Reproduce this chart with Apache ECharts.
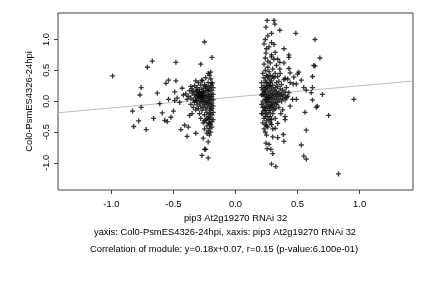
<!DOCTYPE html>
<html>
<head>
<meta charset="utf-8">
<script src="https://cdn.jsdelivr.net/npm/echarts@6/dist/echarts.min.js"></script>
<style>
  html, body { margin: 0; padding: 0; background: #fff; }
  #chart { width: 432px; height: 288px; }
</style>
</head>
<body>
<div id="chart"></div>
<script>
// axis ticks shown on the plot
const xTicks = [-1.0, -0.5, 0.0, 0.5, 1.0];
const yTicks = [-1.0, -0.5, 0.0, 0.5, 1.0];

// fit from the caption
const fitSlope = 0.18;
const fitIntercept = 0.07;

// scattered points left of the axis
const leftSparse = [
  [-0.99, 0.41], [-0.67, 0.65], [-0.71, 0.55], [-0.48, 0.63], [-0.25, 0.96],
  [-0.19, 0.71], [-0.28, 0.60], [-0.76, 0.22], [-0.77, 0.10], [-0.83, -0.16],
  [-0.76, -0.10], [-0.82, -0.41], [-0.78, -0.32], [-0.72, -0.46], [-0.66, -0.28],
  [-0.63, 0.13], [-0.61, -0.04], [-0.59, -0.19], [-0.56, 0.29], [-0.54, 0.34],
  [-0.57, -0.31], [-0.55, -0.33], [-0.52, -0.26], [-0.54, 0.03], [-0.50, -0.16],
  [-0.49, 0.15], [-0.48, 0.33], [-0.49, 0.01], [-0.47, 0.05], [-0.45, -0.02],
  [-0.44, -0.46], [-0.41, -0.39], [-0.39, -0.57], [-0.38, -0.42], [-0.43, 0.21],
  [-0.42, 0.10], [-0.39, 0.03], [-0.36, 0.24], [-0.37, -0.23], [-0.35, -0.20],
  [-0.32, -0.52], [-0.27, -0.88], [-0.25, -0.78], [-0.24, -0.78], [-0.22, -0.92],
  [-0.26, -0.60], [-0.22, -0.66], [-0.19, 0.30], [-0.20, 0.47], [-0.22, 0.45],
  [-0.27, 0.34], [-0.32, 0.33]
];

// dense group near x = -0.25
const leftCluster = [
  [-0.40, 0.12], [-0.38, 0.08], [-0.37, 0.17], [-0.36, 0.05], [-0.36, -0.05],
  [-0.35, 0.13], [-0.35, 0.20], [-0.34, 0.02], [-0.34, -0.10], [-0.33, 0.10],
  [-0.33, 0.25], [-0.33, -0.02], [-0.32, 0.06], [-0.32, 0.16], [-0.32, -0.14],
  [-0.31, 0.00], [-0.31, 0.11], [-0.31, 0.22], [-0.31, -0.06], [-0.30, 0.04],
  [-0.30, 0.14], [-0.30, -0.12], [-0.30, 0.30], [-0.29, 0.08], [-0.29, -0.03],
  [-0.29, 0.19], [-0.29, -0.20], [-0.28, 0.02], [-0.28, 0.12], [-0.28, 0.26],
  [-0.28, -0.08], [-0.28, -0.28], [-0.27, 0.06], [-0.27, 0.16], [-0.27, -0.01],
  [-0.27, -0.15], [-0.27, 0.33], [-0.26, 0.09], [-0.26, 0.00], [-0.26, 0.21],
  [-0.26, -0.10], [-0.26, -0.35], [-0.25, 0.04], [-0.25, 0.13], [-0.25, -0.05],
  [-0.25, 0.27], [-0.25, -0.22], [-0.25, -0.45], [-0.24, 0.07], [-0.24, 0.18],
  [-0.24, -0.02], [-0.24, -0.13], [-0.24, 0.38], [-0.24, -0.30], [-0.23, 0.01],
  [-0.23, 0.10], [-0.23, 0.23], [-0.23, -0.08], [-0.23, -0.18], [-0.23, -0.40],
  [-0.23, -0.52], [-0.22, 0.05], [-0.22, 0.15], [-0.22, -0.04], [-0.22, 0.30],
  [-0.22, -0.25], [-0.22, -0.35], [-0.22, -0.48], [-0.21, 0.08], [-0.21, -0.01],
  [-0.21, 0.20], [-0.21, -0.11], [-0.21, 0.42], [-0.21, -0.20], [-0.21, -0.30],
  [-0.21, -0.44], [-0.21, -0.55], [-0.20, 0.03], [-0.20, 0.12], [-0.20, -0.06],
  [-0.20, 0.25], [-0.20, -0.15], [-0.20, -0.27], [-0.20, -0.38], [-0.20, -0.50],
  [-0.20, 0.36], [-0.19, 0.07], [-0.19, 0.17], [-0.19, -0.03], [-0.19, -0.12],
  [-0.19, -0.22], [-0.19, -0.33], [-0.19, -0.42], [-0.19, 0.28], [-0.18, 0.02],
  [-0.18, 0.11], [-0.18, -0.08], [-0.18, 0.22], [-0.18, -0.18], [-0.18, -0.30],
  [-0.22, 0.18], [-0.24, 0.24], [-0.26, 0.15], [-0.28, 0.07], [-0.30, 0.09],
  [-0.32, 0.01], [-0.34, 0.16], [-0.23, -0.28], [-0.21, -0.36], [-0.25, -0.32],
  [-0.27, 0.10], [-0.29, 0.14], [-0.31, 0.18]
];

// dense group near x = 0.27
const rightCluster = [
  [0.21, 0.10], [0.21, -0.05], [0.21, 0.30], [0.22, 0.00], [0.22, 0.18],
  [0.22, -0.20], [0.22, 0.45], [0.22, -0.35], [0.23, 0.08], [0.23, 0.25],
  [0.23, -0.10], [0.23, 0.60], [0.23, -0.28], [0.23, -0.45], [0.23, 0.38],
  [0.24, 0.03], [0.24, 0.15], [0.24, -0.03], [0.24, 0.33], [0.24, -0.15],
  [0.24, 0.50], [0.24, -0.38], [0.24, 0.70], [0.24, -0.25], [0.25, 0.10],
  [0.25, 0.22], [0.25, -0.08], [0.25, 0.42], [0.25, -0.20], [0.25, 0.85],
  [0.25, -0.32], [0.25, 0.02], [0.26, 0.06], [0.26, 0.18], [0.26, -0.12],
  [0.26, 0.28], [0.26, -0.02], [0.26, 0.55], [0.26, -0.42], [0.26, 0.65],
  [0.27, 0.12], [0.27, 0.00], [0.27, 0.36], [0.27, -0.18], [0.27, 0.24],
  [0.27, -0.30], [0.27, 0.48], [0.27, 0.88], [0.28, 0.05], [0.28, 0.15],
  [0.28, -0.06], [0.28, 0.30], [0.28, -0.15], [0.28, 0.42], [0.28, -0.25],
  [0.28, 0.62], [0.29, 0.09], [0.29, 0.20], [0.29, -0.02], [0.29, 0.33],
  [0.29, -0.10], [0.29, -0.38], [0.29, 0.75], [0.30, 0.03], [0.30, 0.13],
  [0.30, 0.26], [0.30, -0.08], [0.30, -0.20], [0.30, 0.52], [0.30, -0.45],
  [0.31, 0.07], [0.31, 0.18], [0.31, -0.04], [0.31, 0.38], [0.31, -0.14],
  [0.31, 0.68], [0.32, 0.11], [0.32, 0.00], [0.32, 0.22], [0.32, -0.12],
  [0.32, 0.45], [0.32, -0.28], [0.33, 0.05], [0.33, 0.16], [0.33, 0.30],
  [0.33, -0.06], [0.33, 0.58], [0.34, 0.10], [0.34, 0.24], [0.34, -0.02],
  [0.34, 0.40], [0.35, 0.14], [0.35, 0.03], [0.35, 0.32], [0.35, -0.10],
  [0.36, 0.08], [0.36, 0.20], [0.36, 0.45], [0.37, 0.12], [0.37, 0.00],
  [0.37, 0.27], [0.38, 0.05], [0.38, 0.18], [0.38, -0.14], [0.39, 0.10],
  [0.39, 0.35], [0.40, 0.15], [0.40, 0.02], [0.41, 0.22], [0.42, 0.08],
  [0.43, 0.14], [0.44, 0.30], [0.22, 0.12], [0.23, -0.15], [0.24, 0.20],
  [0.25, 0.30], [0.26, -0.25], [0.27, 0.06], [0.28, 0.25], [0.29, -0.30],
  [0.30, 0.40], [0.21, 0.22], [0.22, -0.10], [0.23, 0.15], [0.25, -0.40],
  [0.26, 0.40], [0.27, -0.08], [0.28, -0.35], [0.21, -0.20]
];

// scattered points right of the axis
const rightSparse = [
  [0.255, 1.31], [0.31, 1.31], [0.245, 1.20], [0.317, 1.25], [0.357, 1.15],
  [0.29, 1.10], [0.26, 1.06], [0.486, 1.10], [0.64, 1.00], [0.24, 1.00],
  [0.29, 0.95], [0.31, 0.92], [0.39, 0.85], [0.23, 0.93], [0.245, 0.78],
  [0.32, 0.79], [0.29, 0.72], [0.34, 0.68], [0.357, 0.63], [0.43, 0.75],
  [0.43, 0.71], [0.39, 0.62], [0.68, 0.70], [0.63, 0.58], [0.64, 0.57],
  [0.43, 0.53], [0.357, 0.52], [0.44, 0.46], [0.51, 0.47], [0.50, 0.44],
  [0.62, 0.40], [0.40, 0.37], [0.42, 0.36], [0.47, 0.39], [0.53, 0.34],
  [0.465, 0.28], [0.49, 0.28], [0.55, 0.22], [0.62, 0.22], [0.57, 0.18],
  [0.61, 0.14], [0.70, 0.11], [0.954, 0.03], [0.46, 0.03], [0.49, 0.03],
  [0.41, 0.06], [0.62, 0.02], [0.66, -0.08], [0.65, -0.10], [0.44, -0.08],
  [0.56, -0.18], [0.75, -0.23], [0.40, -0.30], [0.57, -0.47], [0.385, -0.54],
  [0.39, -0.65], [0.53, -0.71], [0.55, -0.89], [0.57, -0.94], [0.83, -1.18],
  [0.30, -0.58], [0.34, -0.59], [0.245, -0.68], [0.27, -0.70], [0.255, -0.77],
  [0.285, -0.78], [0.30, -0.85], [0.29, -1.02], [0.325, -1.06], [0.24, -0.50],
  [0.25, -0.55], [0.365, -0.20], [0.40, -0.25], [0.34, -0.36], [0.32, -0.44]
];

const xMin = -1.43, xMax = 1.43;
const yMin = -1.44, yMax = 1.43;

const plusMark = 'path://M0,1.85h5v1.3h-5zM1.85,0h1.3v5h-1.3z';
const points = leftSparse.concat(leftCluster, rightCluster, rightSparse);
const fitLine = [xMin, xMax].map(x => [x, fitSlope * x + fitIntercept]);

const font = 'Liberation Sans, Arial, Helvetica, sans-serif';
const fs = 9.4;
const chart = echarts.init(document.getElementById('chart'), null, { renderer: 'canvas' });

chart.setOption({
  animation: false,
  backgroundColor: '#fff',
  textStyle: { fontFamily: font },
  grid: {
    left: 58, right: 19, top: 13, bottom: 98,
    show: true, borderColor: '#444', borderWidth: 1, backgroundColor: 'transparent'
  },
  xAxis: {
    type: 'value', min: xMin, max: xMax,
    name: 'pip3 At2g19270 RNAi 32', nameLocation: 'middle', nameGap: 21,
    nameTextStyle: { fontSize: fs, color: '#000', fontFamily: font },
    axisLine: { show: false, onZero: false },
    axisTick: { show: true, length: 4, customValues: xTicks, lineStyle: { color: '#444' } },
    axisLabel: {
      customValues: xTicks, fontSize: fs, color: '#000', margin: 10,
      formatter: v => v.toFixed(1)
    },
    splitLine: { show: false }
  },
  yAxis: {
    type: 'value', min: yMin, max: yMax,
    name: 'Col0-PsmES4326-24hpi', nameLocation: 'middle', nameGap: 17, nameRotate: 90,
    nameTextStyle: { fontSize: fs, color: '#000', fontFamily: font },
    axisLine: { show: false, onZero: false },
    axisTick: { show: true, length: 4, customValues: yTicks, lineStyle: { color: '#444' } },
    axisLabel: {
      customValues: yTicks, fontSize: fs, color: '#000', margin: 7, rotate: 90,
      formatter: v => v.toFixed(1)
    },
    splitLine: { show: false }
  },
  series: [
    {
      type: 'line',
      data: fitLine,
      showSymbol: false,
      lineStyle: { color: '#bdbdbd', width: 1 },
      z: 1
    },
    {
      type: 'scatter',
      data: points,
      symbol: plusMark,
      symbolSize: 5,
      itemStyle: { color: '#000' },
      z: 2
    }
  ],
  graphic: [
    {
      type: 'text', x: 225, y: 232,
      style: {
        text: 'yaxis: Col0-PsmES4326-24hpi, xaxis: pip3 At2g19270 RNAi 32',
        font: fs + 'px ' + font, fill: '#000', align: 'center', verticalAlign: 'middle'
      }
    },
    {
      type: 'text', x: 224, y: 249,
      style: {
        text: 'Correlation of module: y=0.18x+0.07, r=0.15 (p-value:6.100e-01)',
        font: fs + 'px ' + font, fill: '#000', align: 'center', verticalAlign: 'middle'
      }
    }
  ]
});
</script>
</body>
</html>
